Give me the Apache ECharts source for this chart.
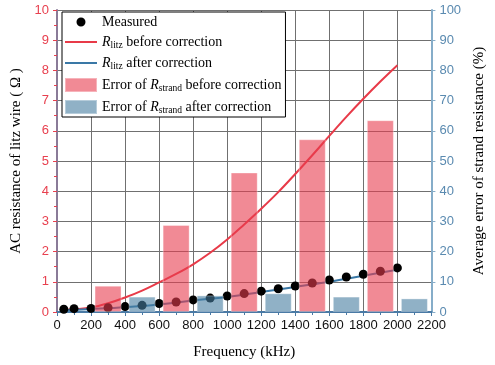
<!DOCTYPE html>
<html><head><meta charset="utf-8">
<script src="https://cdn.jsdelivr.net/npm/echarts@6/dist/echarts.min.js"></script>
<style>html,body{margin:0;padding:0;background:#fff}#c{width:495px;height:365px}</style>
</head><body><div id="c"></div>
<script>
// Data
var measuredFreq = [40,100,200,300,400,500,600,700,800,900,1000,1100,1200,1300,1400,1500,1600,1700,1800,1900,2000];
var measuredR    = [0.09,0.11,0.12,0.14,0.18,0.22,0.28,0.33,0.40,0.46,0.53,0.61,0.69,0.77,0.86,0.96,1.06,1.16,1.25,1.35,1.46];
var beforeFreq = [40,100,200,300,400,500,600,700,800,900,1000,1100,1200,1300,1400,1500,1600,1700,1800,1900,2000];
var beforeR    = [0.07,0.09,0.15,0.29,0.48,0.71,0.98,1.26,1.58,1.96,2.40,2.90,3.42,3.97,4.57,5.19,5.83,6.46,7.06,7.63,8.17];
var afterFreq = [40,200,400,600,800,1000,1200,1400,1600,1800,2000];
var afterR    = [0.06,0.10,0.16,0.25,0.38,0.50,0.66,0.83,1.00,1.20,1.40];
var errBeforeFreq = [300,700,1100,1500,1900];
var errBefore     = [8.7,28.8,46.2,57.2,63.5];
var errAfterFreq = [500,900,1300,1700,2100];
var errAfter     = [5.1,5.5,6.2,5.1,4.5];

function pairs(a,b){return a.map(function(v,i){return [v,b[i]];});}

var serif = 'Liberation Serif';
var sans = 'Liberation Sans';
var names = {
  m: 'Measured',
  b: 'Rlitz before correction',
  a: 'Rlitz after correction',
  eb: 'Error of Rstrand before correction',
  ea: 'Error of Rstrand after correction'
};
var lineIcon = 'path://M0,0L0.01,0M32,14L32.01,14M0,6L32,6L32,8L0,8Z';
var dotIcon = 'path://M0,0L0.01,0M32,14L32.01,14M16,2.5A4.5,4.5,0,1,1,16,11.5A4.5,4.5,0,1,1,16,2.5Z';
var chart = echarts.init(document.getElementById('c'));
chart.setOption({
  animation: false,
  backgroundColor: '#fff',
  grid: {left: 57, right: 59, top: 10, bottom: 53},
  legend: {
    orient: 'vertical', left: 62, top: 12,
    backgroundColor: '#fff', borderColor: '#000', borderWidth: 1, borderRadius: 0,
    padding: [3, 4, 2, 2], itemGap: 6, itemWidth: 32, itemHeight: 14,
    textStyle: {fontFamily: serif, fontSize: 14, color: '#000',
      rich: {
        t: {fontFamily: serif, fontSize: 14, color: '#000'},
        i: {fontFamily: serif, fontSize: 14, fontStyle: 'italic', color: '#000'},
        s: {fontFamily: serif, fontSize: 9.5, color: '#000', verticalAlign: 'bottom', padding: [6,0,0,0]}
      }},
    formatter: function(n){
      if (n === names.b) return '{i|R}{s|litz}{t| before correction}';
      if (n === names.a) return '{i|R}{s|litz}{t| after correction}';
      if (n === names.eb) return '{t|Error of }{i|R}{s|strand}{t| before correction}';
      if (n === names.ea) return '{t|Error of }{i|R}{s|strand}{t| after correction}';
      return '{t|' + n + '}';
    },
    data: [
      {name: names.m, icon: dotIcon},
      {name: names.b, icon: lineIcon}, {name: names.a, icon: lineIcon},
      {name: names.eb, icon: 'rect'}, {name: names.ea, icon: 'rect'}
    ]
  },
  xAxis: {
    type: 'value', min: 0, max: 2200, interval: 200,
    name: 'Frequency (kHz)', nameLocation: 'middle', nameGap: 33,
    nameTextStyle: {fontFamily: serif, fontSize: 15, color: '#000'},
    axisLine: {onZero: false, lineStyle: {color: '#4a7aa5', width: 2}},
    axisTick: {show: true, length: 4, lineStyle: {color: '#4a7aa5'}},
    minorTick: {show: true, splitNumber: 2, length: 3, lineStyle: {color: '#4a7aa5'}},
    axisLabel: {fontFamily: sans, fontSize: 13, color: '#111', margin: 7,
      formatter: function(v){return String(v);}},
    splitLine: {show: true, lineStyle: {color: '#707070', width: 1}}
  },
  yAxis: [{
    type: 'value', min: 0, max: 10, interval: 1,
    name: 'AC resistance of litz wire ( Ω )', nameLocation: 'middle', nameGap: 27,
    nameTextStyle: {fontFamily: serif, fontSize: 15, color: '#000'},
    axisLine: {show: true, lineStyle: {color: '#8a7b98', width: 2}},
    axisTick: {show: true, length: 4, lineStyle: {color: '#e8404f'}},
    minorTick: {show: true, splitNumber: 2, length: 3, lineStyle: {color: '#e8404f'}},
    axisLabel: {fontFamily: sans, fontSize: 13, color: '#e8404f', margin: 8},
    splitLine: {show: true, lineStyle: {color: '#707070', width: 1}}
  }, {
    type: 'value', min: 0, max: 100, interval: 10, position: 'right',
    name: 'Average error of strand resistance (%)', nameLocation: 'middle', nameGap: 34,
    nameTextStyle: {fontFamily: serif, fontSize: 15, color: '#000'},
    axisLine: {show: true, lineStyle: {color: '#86adc9', width: 2}},
    axisTick: {show: true, length: 4, lineStyle: {color: '#86adc9'}},
    axisLabel: {fontFamily: sans, fontSize: 13, color: '#5a8ab0', margin: 8},
    splitLine: {show: false}
  }],
  series: [
    {name: names.m, type: 'scatter', data: pairs(measuredFreq, measuredR), symbolSize: 9,
     itemStyle: {color: '#000', opacity: 1}, z: 2},
    {name: names.b, type: 'line', data: pairs(beforeFreq, beforeR), smooth: 0.4, showSymbol: false, symbol: 'none',
     lineStyle: {color: '#e83a48', width: 2}, itemStyle: {color: '#e83a48'}, z: 2},
    {name: names.a, type: 'line', data: pairs(afterFreq, afterR), smooth: 0.4, showSymbol: false, symbol: 'none',
     lineStyle: {color: '#3a78a6', width: 2}, itemStyle: {color: '#3a78a6'}, z: 2},
    {name: names.eb, type: 'bar', yAxisIndex: 1, data: pairs(errBeforeFreq, errBefore), barWidth: 27, barGap: '-100%',
     itemStyle: {color: 'rgba(232,60,78,0.6)', borderColor: 'rgba(255,255,255,0.35)', borderWidth: 1}, z: 3},
    {name: names.ea, type: 'bar', yAxisIndex: 1, data: pairs(errAfterFreq, errAfter), barWidth: 27, barGap: '-100%',
     itemStyle: {color: 'rgba(70,125,160,0.6)', borderColor: 'rgba(255,255,255,0.35)', borderWidth: 1}, z: 3}
  ]
});
</script></body></html>
